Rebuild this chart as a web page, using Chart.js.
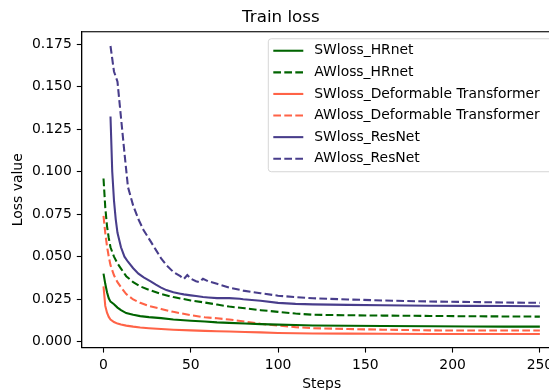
<!DOCTYPE html>
<html>
<head>
<meta charset="utf-8">
<title>Train loss</title>
<script src="https://cdn.jsdelivr.net/npm/chart.js@4/dist/chart.umd.min.js"></script>
<style>
  html, body { margin: 0; padding: 0; overflow: hidden; background: #fff; }
  #wrap { width: 580px; height: 400px; }
</style>
</head>
<body>
<div id="wrap"><canvas id="loss-chart" width="580" height="400"></canvas></div>
<script>
'use strict';

// ── Data ───────────────────────────────────────────────────────────────────
const X_TICKS = [0, 50, 100, 150, 200, 250];
const Y_TICKS = [0, 0.025, 0.05, 0.075, 0.1, 0.125, 0.15, 0.175];

// steps for HRnet / Deformable Transformer runs
const stepsA = [0, 1, 2, 3, 4, 6, 8, 10, 13, 17, 21, 26, 33, 40, 50, 58, 65, 72, 81, 90,
                100, 110, 120, 140, 160, 187, 210, 230, 250];

const swHRnet = [0.0400, 0.0340, 0.0290, 0.0255, 0.0235, 0.0220, 0.0200, 0.0185, 0.0168, 0.0158,
                 0.0150, 0.0144, 0.0138, 0.0130, 0.0123, 0.0118, 0.0113, 0.0110, 0.0106, 0.0103,
                 0.0100, 0.0098, 0.0095, 0.0093, 0.0092, 0.0090, 0.0089, 0.0088, 0.0088];
const awHRnet = [0.0960, 0.0790, 0.0680, 0.0610, 0.0555, 0.0500, 0.0460, 0.0430, 0.0385, 0.0350,
                 0.0325, 0.0305, 0.0280, 0.0262, 0.0242, 0.0230, 0.0218, 0.0206, 0.0196, 0.0185,
                 0.0175, 0.0165, 0.0158, 0.0155, 0.0153, 0.0151, 0.0149, 0.0148, 0.0147];
const swDeform = [0.0325, 0.0210, 0.0170, 0.0145, 0.0130, 0.0115, 0.0106, 0.0100, 0.0094, 0.0088,
                  0.0083, 0.0079, 0.0074, 0.0070, 0.0066, 0.0063, 0.0061, 0.0059, 0.0056, 0.0054,
                  0.0051, 0.0049, 0.0048, 0.0047, 0.0046, 0.0045, 0.0045, 0.0045, 0.0045];
const awDeform = [0.0740, 0.0640, 0.0560, 0.0500, 0.0450, 0.0390, 0.0350, 0.0320, 0.0280, 0.0248,
                  0.0228, 0.0210, 0.0192, 0.0175, 0.0155, 0.0143, 0.0137, 0.0130, 0.0118, 0.0105,
                  0.0094, 0.0085, 0.0079, 0.0074, 0.0070, 0.0066, 0.0065, 0.0065, 0.0065];

// ResNet curves start a few steps later
const stepsRes = [4, 5, 6, 7, 8, 10, 12, 14, 17, 20, 23, 27, 30, 33, 36, 40, 44, 46, 48, 50,
                  53, 55, 57, 60, 65, 72, 78, 80, 90, 100, 110, 120, 140, 160, 187, 210, 230, 250];
const swResNet = [0.1325, 0.1000, 0.0830, 0.0720, 0.0640, 0.0555, 0.0500, 0.0470, 0.0432, 0.0400,
                  0.0378, 0.0355, 0.0335, 0.0318, 0.0303, 0.0290, 0.0282, 0.0278, 0.0275, 0.0272,
                  0.0268, 0.0265, 0.0262, 0.0260, 0.0256, 0.0256, 0.0252, 0.0249, 0.0240, 0.0228,
                  0.0222, 0.0219, 0.0216, 0.0214, 0.0211, 0.0210, 0.0209, 0.0208];
const awResNet = [0.1740, 0.1665, 0.1590, 0.1560, 0.1530, 0.1320, 0.1110, 0.0910, 0.0800, 0.0720,
                  0.0655, 0.0590, 0.0540, 0.0490, 0.0450, 0.0410, 0.0385, 0.0368, 0.0392, 0.0370,
                  0.0355, 0.0350, 0.0370, 0.0355, 0.0340, 0.0318, 0.0305, 0.0300, 0.0285, 0.0270,
                  0.0262, 0.0255, 0.0248, 0.0242, 0.0236, 0.0233, 0.0230, 0.0228];

// ── Styles ─────────────────────────────────────────────────────────────────
const GREEN  = '#006400';
const TOMATO = '#ff6347';
const PURPLE = '#483d8b';
const DASH   = [7.7, 3.3];
const FONT   = 'DejaVu Sans';
const LW     = 2.08;

function pts(xs, ys) { return xs.map((x, i) => ({ x: x, y: ys[i] })); }

function series(label, xs, ys, color, dashed) {
  return {
    label: label,
    data: pts(xs, ys),
    borderColor: color,
    backgroundColor: color,
    borderWidth: LW,
    borderDash: dashed ? DASH : [],
    pointRadius: 0,
    tension: 0,
    fill: false,
  };
}

// ── Frame + legend (matplotlib style) ──────────────────────────────────────
const frameAndLegend = {
  id: 'frameAndLegend',
  afterDraw(chart) {
    const ctx = chart.ctx;
    const a = chart.chartArea;
    ctx.save();
    ctx.strokeStyle = '#000';
    ctx.lineWidth = 1.1;
    ctx.strokeRect(a.left, a.top, a.right - a.left, a.bottom - a.top);

    // legend box
    const bx = 268.3, by = a.top + 7;
    const bw = a.right - 7 - bx, bh = 133;
    ctx.beginPath();
    ctx.roundRect(bx, by, bw, bh, 3);
    ctx.fillStyle = 'rgba(255,255,255,0.8)';
    ctx.fill();
    ctx.strokeStyle = 'rgba(204,204,204,0.8)';
    ctx.lineWidth = 1;
    ctx.stroke();

    ctx.font = '13.9px "' + FONT + '"';
    ctx.textBaseline = 'middle';
    ctx.textAlign = 'left';
    chart.data.datasets.forEach((ds, i) => {
      const y = by + 12 + i * 21.6;
      ctx.beginPath();
      ctx.setLineDash(ds.borderDash);
      ctx.strokeStyle = ds.borderColor;
      ctx.lineWidth = LW;
      ctx.moveTo(bx + 5, y);
      ctx.lineTo(bx + 35, y);
      ctx.stroke();
      ctx.setLineDash([]);
      ctx.fillStyle = '#000';
      ctx.fillText(ds.label, bx + 46, y);
    });
    ctx.restore();
  }
};

// ── Chart ──────────────────────────────────────────────────────────────────
Chart.defaults.font.family = FONT;
Chart.defaults.color = '#000';

const tickFont = { family: FONT, size: 13.9 };

new Chart(document.getElementById('loss-chart').getContext('2d'), {
  type: 'line',
  data: {
    datasets: [
      series('SWloss_HRnet', stepsA, swHRnet, GREEN, false),
      series('AWloss_HRnet', stepsA, awHRnet, GREEN, true),
      series('SWloss_Deformable Transformer', stepsA, swDeform, TOMATO, false),
      series('AWloss_Deformable Transformer', stepsA, awDeform, TOMATO, true),
      series('SWloss_ResNet', stepsRes, swResNet, PURPLE, false),
      series('AWloss_ResNet', stepsRes, awResNet, PURPLE, true),
    ]
  },
  options: {
    responsive: false,
    animation: false,
    devicePixelRatio: 1,
    layout: { padding: { left: 0, right: 18.3, top: 0, bottom: 0 } },
    plugins: {
      legend: { display: false },
      tooltip: { enabled: false },
      title: {
        display: true,
        text: 'Train loss',
        color: '#000',
        font: { family: FONT, size: 16.7, weight: 'normal' },
        padding: { top: 7.6, bottom: 4.1 },
      },
    },
    scales: {
      x: {
        type: 'linear',
        min: -12.5,
        max: 262.5,
        afterBuildTicks: s => { s.ticks = X_TICKS.map(v => ({ value: v })); },
        afterFit: s => { s.height = 52.3; },
        ticks: { font: tickFont, color: '#000', padding: 4, maxRotation: 0, autoSkip: false,
                 callback: v => String(v) },
        grid: { drawOnChartArea: false, tickLength: 4.9, tickWidth: 1.1, tickColor: '#000' },
        border: { color: '#000', width: 1.1 },
        title: { display: true, text: 'Steps', color: '#000', font: tickFont,
                 padding: { top: 0, bottom: 7.7 } },
      },
      y: {
        type: 'linear',
        min: -0.0036,
        max: 0.1824,
        afterBuildTicks: s => { s.ticks = Y_TICKS.map(v => ({ value: v })); },
        afterFit: s => { s.width = 81.7; },
        ticks: { font: tickFont, color: '#000', padding: 5, autoSkip: false,
                 callback: v => v.toFixed(3) },
        grid: { drawOnChartArea: false, tickLength: 4.9, tickWidth: 1.1, tickColor: '#000' },
        border: { color: '#000', width: 1.1 },
        title: { display: true, text: 'Loss value', color: '#000', font: tickFont,
                 padding: { top: 9.7, bottom: 0 } },
      }
    }
  },
  plugins: [frameAndLegend]
});
</script>
</body>
</html>
